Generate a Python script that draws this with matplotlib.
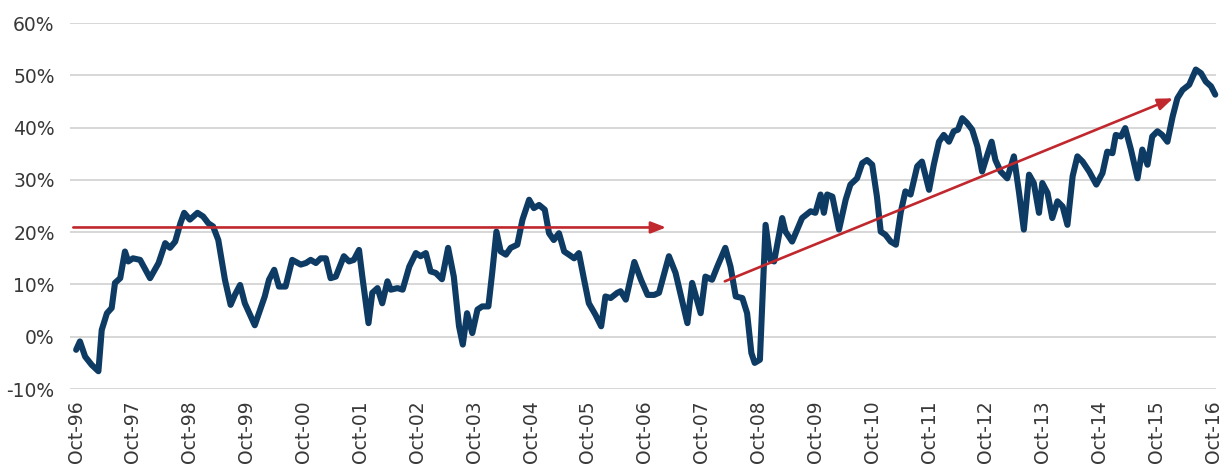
import matplotlib
matplotlib.use("Agg")
import matplotlib.pyplot as plt
from matplotlib.ticker import FuncFormatter

# months since Oct-96, value in %
months = [0, 0.8, 1.9, 3.3, 4.7, 5.4, 6.5, 7.5, 8.2, 9.3, 10.3, 11, 12, 13.5, 15.6,
          17.4, 18.8, 19.8, 20.9, 22, 22.8, 24, 25.6, 26.8, 27.9, 28.9, 30, 31.4,
          32.6, 33.5, 34.6, 35.6, 37.7, 39.8, 40.7, 41.8, 42.8, 44.2, 45.6, 47.4,
          48.5, 49.5, 50.6, 51.6, 52.7, 53.7, 54.8, 56.5, 57.6, 58.6, 59.7, 60.4,
          61.7, 62.5, 63.6, 64.6, 65.7, 66.4, 67.8, 68.9, 70.3, 71.7, 72.7, 73.8,
          74.8, 75.9, 77.2, 78.5, 79.7, 80.8, 81.6, 82.5, 83.6, 84.7, 85.7, 87,
          87.8, 88.7, 89.6, 90.7, 91.7, 93.1, 94.2, 95.6, 96.6, 97.7, 98.9, 99.8,
          100.8, 101.9, 103, 104, 105.1, 106.1, 107.2, 108.2, 109.6, 110.8, 111.7,
          112.8, 114.2, 114.9, 116, 117.8, 119.2, 120.6, 122, 123, 125.1, 126.5,
          129, 130, 131.8, 132.8, 134.2, 135.3, 137, 138.1, 139.2, 140.6, 141.6,
          142.5, 143.2, 144.3, 145.5, 146.5, 147.3, 149, 149.7, 151.1, 153.2, 155,
          156, 157.1, 157.8, 158.5, 159.6, 161, 162.4, 163.4, 164.8, 165.9, 166.9,
          168, 169, 169.8, 170.8, 171.9, 173, 174, 175, 176.1, 177.5, 178.5, 180,
          181, 182.1, 183.1, 184.2, 185.2, 186.1, 187, 188, 189.1, 190.2, 191.2,
          192.3, 193.2, 194, 195.1, 196.5, 197.9, 199, 200, 201.1, 202.1, 203.2,
          203.9, 205, 206, 207.1, 208.2, 209.2, 210.3, 211.3, 212.4, 213.8, 215.3,
          216.6, 217.6, 218.7, 219.4, 220.5, 221.4, 222.6, 224, 225, 226.1, 227.1,
          228.2, 229.2, 230.3, 231.4, 232.4, 233.5, 234.9, 236.3, 237.4, 238.4,
          239.5, 240.4]
values = [-2.5, -0.9, -3.8, -5.4, -6.6, 1.3, 4.5, 5.5, 10.3, 11.2, 16.3, 14.4, 15, 14.7, 11.2,
          14.1, 17.9, 17, 18.2, 21.7, 23.7, 22.4, 23.7, 23, 21.7, 21.1, 18.5, 10.9,
          6.1, 8, 9.9, 6.4, 2.2, 7.7, 10.9, 12.8, 9.6, 9.6, 14.7, 13.8,
          14.1, 14.7, 14.1, 15, 15, 11.2, 11.5, 15.4, 14.4, 14.7, 16.6, 11.5,
          2.6, 8.4, 9.3, 6.4, 10.6, 9, 9.3, 9, 13.4, 16, 15.4, 16,
          12.5, 12.2, 11, 17, 11.5, 2, -1.5, 4.5, 0.7, 5.2, 5.8, 5.8,
          12.2, 20.1, 16.3, 15.7, 17, 17.6, 22.4, 26.2, 24.6, 25.2, 24.3, 19.8,
          18.5, 19.8, 16.3, 15.7, 15, 16, 10.9, 6.4, 4.2, 2, 7.7,
          7.4, 8.4, 8.7, 7.1, 14.3, 10.9, 8, 8, 8.4, 15.4, 12.2,
          2.6, 10.3, 4.5, 11.5, 10.9, 13.4, 17, 13.4, 7.7, 7.4, 4.5,
          -3.1, -5, -4.4, 21.4, 14.7, 14.4, 22.7, 20.1, 18.2, 22.7, 24,
          23.7, 27.2, 23.7, 27.2, 26.8, 20.5, 26.2, 29.1, 30.3, 33.2, 33.8,
          32.9, 26.8, 20.1, 19.5, 18.2, 17.6, 23.7, 27.8, 27.2, 32.6, 33.5, 28.1,
          32.9, 37.3, 38.6, 37.3, 39.3, 39.6, 41.8, 40.9, 39.6, 36.4, 31.6,
          34.8, 37.3, 33.8, 31.6, 30.3, 34.5, 27.5, 20.5, 31, 29.4, 23.7,
          29.4, 27.5, 22.7, 25.9, 24.9, 21.4, 30.7, 34.5, 33.5, 31.6, 29.1,
          31.3, 35.4, 35.1, 38.6, 38.3, 39.9, 35.8, 30.3, 35.8, 32.9, 38.3,
          39.3, 38.6, 37.3, 42.1, 45.6, 47.2, 48.2, 51.1, 50.4, 48.8,
          47.9, 46.3]

tick_months = list(range(0, 241, 12))
tick_labels = ["Oct-%02d" % ((96 + i) % 100) for i in range(21)]

# trend arrows: (start month, start value) -> (end month, end value)
flat_arrow = ((-0.6, 20.9), (124.5, 20.9))
rise_arrow = ((136.9, 10.6), (231.5, 45.6))

navy = "#0e3b63"
red = "#c0282e"
text_col = "#383838"

fig = plt.figure(figsize=(12.32, 4.70), dpi=100)
ax = fig.add_axes([0.0568, 0.1723, 0.930, 0.7787])

ax.set_xlim(-1.3, 240.5)
ax.set_ylim(-10, 60)
ax.set_yticks(range(-10, 61, 10))
ax.yaxis.set_major_formatter(FuncFormatter(lambda v, p: "%d%%" % v))
ax.set_xticks(tick_months)
ax.set_xticklabels(tick_labels, rotation=90)

ax.grid(axis="y", color="#d4d4d4", linewidth=1.3)
ax.set_axisbelow(True)
for s in ax.spines.values():
    s.set_visible(False)
ax.tick_params(length=0, labelsize=13.5, colors=text_col)
ax.tick_params(axis="y", pad=11)
ax.tick_params(axis="x", pad=8)

ax.plot(months, values, color=navy, linewidth=4.4, solid_joinstyle="round",
        solid_capstyle="round", clip_on=False, zorder=3)

for (x0, y0), (x1, y1) in (flat_arrow, rise_arrow):
    ax.annotate("", xy=(x1, y1), xytext=(x0, y0),
                arrowprops=dict(arrowstyle="-|>,head_length=0.9,head_width=0.35",
                                color=red, linewidth=1.9, shrinkA=0, shrinkB=0),
                zorder=4)

fig.savefig("out.png", dpi=100, facecolor="white")
